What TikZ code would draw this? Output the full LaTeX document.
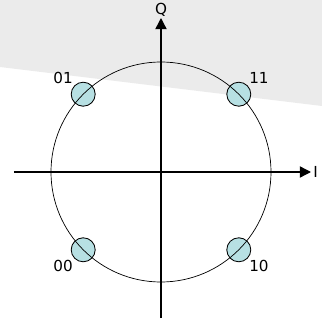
\documentclass[tikz,border=0pt]{standalone}
\usepackage{fontspec}
\setmainfont{DejaVu Sans}
\usepackage{tikz}
\usetikzlibrary{arrows.meta, positioning}
\definecolor{dotfill}{RGB}{183,224,227}
\definecolor{bandgray}{RGB}{235,235,235}

\begin{document}
\begin{tikzpicture}[
    font=\fontsize{10.8}{12}\selectfont,
    axisline/.style={black, line width=1pt, -{Triangle[length=2.8mm, width=2.8mm]}},
    ringline/.style={black, line width=0.5pt},
    symdot/.style={circle, draw=black, line width=0.6pt, fill=dotfill, minimum size=6mm, inner sep=0pt},
    symlabel/.style={inner sep=1pt}
]

% ---------- parameters ----------
\def\R{2.75}
% 1px = 0.025cm, centre of the diagram at (161,172)px
\useasboundingbox (-4.025,-3.725) rectangle (4.025,4.3);

% ---------- shaded band ----------
\fill[bandgray] (-4.025,4.3) -- (4.025,4.3) -- (4.025,1.65) -- (-4.025,2.625) -- cycle;

% ---------- axes ----------
\coordinate (O) at (0,0);
\coordinate (xs) at (-3.675,0);
\coordinate (xe) at (3.75,0);
\coordinate (ys) at (0,-3.65);
\coordinate (ye) at (0,3.85);
\draw[axisline] (xs) -- (xe);
\draw[axisline] (ys) -- (ye);
\node[anchor=west, inner sep=1.5pt] (ilab) at (xe) {I};
\node[anchor=south, inner sep=1pt] (qlab) at (ye) {Q};

% ---------- constellation points ----------
\foreach \ang/\nm in {45/11, 135/01, 225/00, 315/10}{
    \node[symdot] (p\nm) at (\ang:\R) {};
}
\node[symlabel, anchor=south east] at (p01.north west) {01};
\node[symlabel, anchor=south west] at (p11.north east) {11};
\node[symlabel, anchor=north east] at (p00.south west) {00};
\node[symlabel, anchor=north west] at (p10.south east) {10};

% ---------- unit circle ----------
\draw[ringline] (O) circle (\R);

\end{tikzpicture}
\end{document}
